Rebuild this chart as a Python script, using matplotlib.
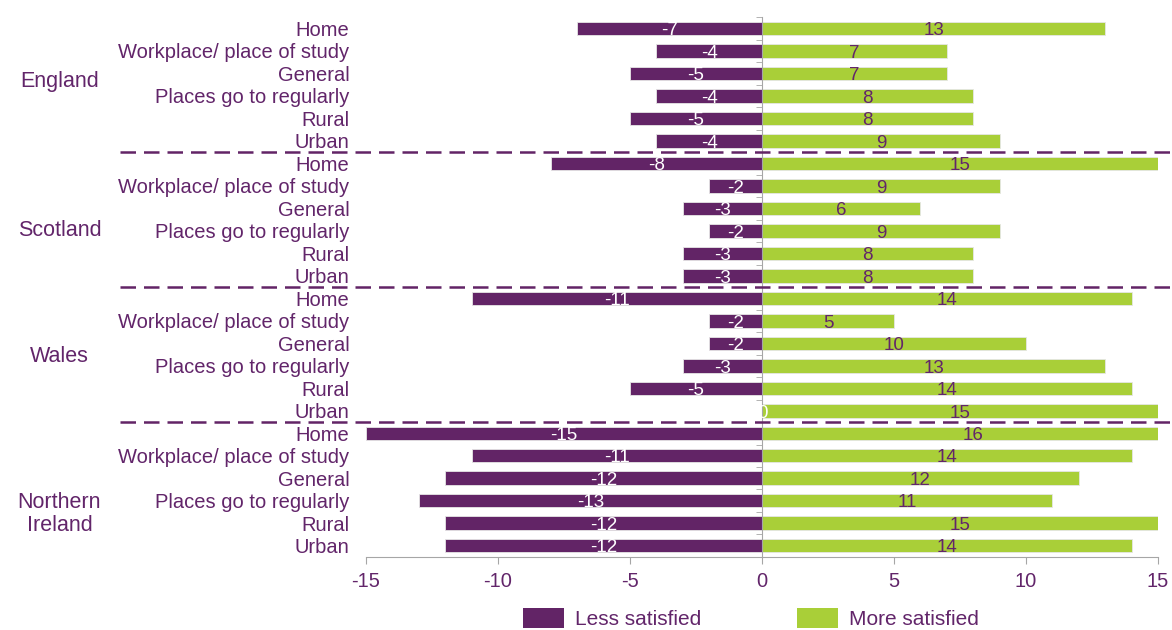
import numpy as np
import matplotlib.pyplot as plt
from matplotlib.patches import Patch
from matplotlib.transforms import blended_transform_factory

plt.rcParams['font.family'] = ['Liberation Sans', 'DejaVu Sans']

# data
groups = ["England", "Scotland", "Wales", "Northern\nIreland"]
categories = ["Home", "Workplace/ place of study", "General",
              "Places go to regularly", "Rural", "Urban"]
less_england = [-7, -4, -5, -4, -5, -4]
less_scotland = [-8, -2, -3, -2, -3, -3]
less_wales = [-11, -2, -2, -3, -5, 0]
less_ni = [-15, -11, -12, -13, -12, -12]
more_england = [13, 7, 7, 8, 8, 9]
more_scotland = [15, 9, 6, 9, 8, 8]
more_wales = [14, 5, 10, 13, 14, 15]
more_ni = [16, 14, 12, 11, 15, 14]
xticks = [-15, -10, -5, 0, 5, 10, 15]

less = less_england + less_scotland + less_wales + less_ni
more = more_england + more_scotland + more_wales + more_ni
labels = categories * len(groups)

PURPLE = '#622466'
GREEN = '#A9CF38'
TEXT = '#62256A'
GREY = '#A6A6A6'

fig = plt.figure(figsize=(11.72, 6.3), dpi=100)
ax = fig.add_axes([0.3123, 0.1159, 0.6758, 0.857])

y = np.arange(len(labels))
ax.barh(y, less, height=0.6, color=PURPLE, edgecolor='#e6e6e6', linewidth=0.6, zorder=2)
ax.barh(y, more, height=0.6, color=GREEN, edgecolor='#e6e6e6', linewidth=0.6, zorder=2)

for yi, v in zip(y, less):
    ax.text(v / 2, yi + 0.1, f"{v}", ha='center', va='center', color='white',
            fontsize=13.5, zorder=4)
for yi, v in zip(y, more):
    ax.text(v / 2, yi + 0.1, f"{v}", ha='center', va='center', color=TEXT,
            fontsize=13.5, zorder=4)

ax.set_xlim(-15, 15)
ax.set_ylim(len(labels) - 0.5, -0.5)

# axes styling
for s in ['top', 'right']:
    ax.spines[s].set_visible(False)
ax.spines['left'].set_position(('data', 0))
ax.spines['left'].set_color(GREY)
ax.spines['bottom'].set_color(GREY)
ax.spines['left'].set_zorder(3)

ax.set_xticks(xticks)
ax.set_xticklabels([str(t) for t in xticks])
ax.tick_params(axis='x', colors=GREY, labelcolor=TEXT, labelsize=14.5,
               length=5, direction='out', pad=6)

ax.set_yticks(y)
ax.set_yticklabels(labels)
ax.set_yticks(np.arange(-0.5, len(labels), 1), minor=True)
ax.tick_params(axis='y', which='major', length=0, pad=297, labelcolor=TEXT,
               labelsize=14.5)
ax.tick_params(axis='y', which='minor', length=4, color=GREY, direction='out')

# group separators and labels
trans = blended_transform_factory(ax.transAxes, ax.transData)
for k in range(1, len(groups)):
    yb = k * len(categories) - 0.5
    ax.plot([-0.31, 1.02], [yb, yb], transform=trans, color=PURPLE, lw=1.8,
            dashes=(6.2, 3.2), clip_on=False, zorder=5)

group_pos = [2.36, 8.98, 14.6, 21.6]
for g, gy in zip(groups, group_pos):
    ax.text(-0.387, gy, g, transform=trans, ha='center', va='center',
            color=TEXT, fontsize=15.5, linespacing=1.15)

handles = [Patch(facecolor=PURPLE, label='Less satisfied'),
           Patch(facecolor=GREEN, label='More satisfied')]
leg = fig.legend(handles=handles, loc='center', bbox_to_anchor=(0.641, 0.018),
                 ncol=2, frameon=False, fontsize=15, handlelength=1.95,
                 handleheight=1.1, handletextpad=0.55, columnspacing=4.6)
for t in leg.get_texts():
    t.set_color(TEXT)

fig.savefig('out.png', dpi=100)
